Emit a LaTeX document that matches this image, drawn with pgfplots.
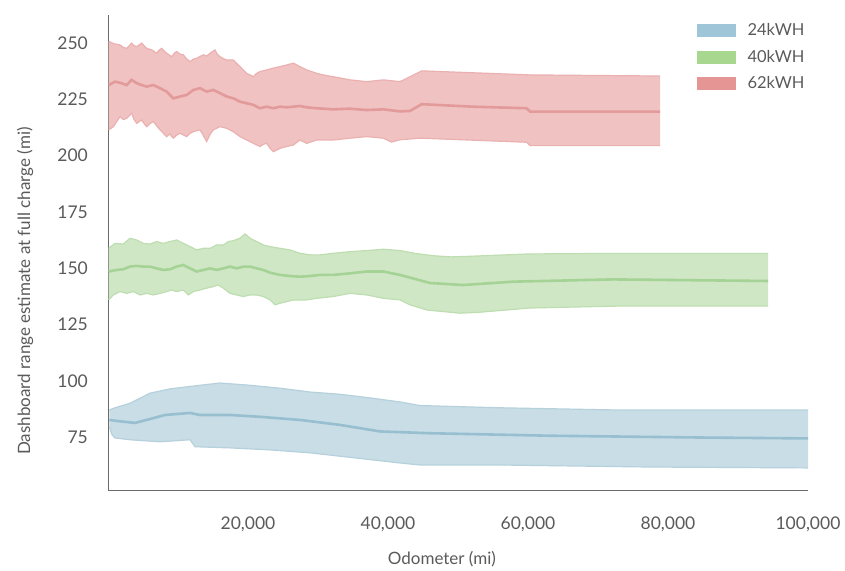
\documentclass[border=0pt]{standalone}
\usepackage{pgfplots}
\pgfplotsset{compat=1.18}
\usepgfplotslibrary{fillbetween}
\usepackage{fontspec}
\setmainfont{Lato}

\definecolor{txt}{HTML}{5A5A5A}
\definecolor{spine}{HTML}{6A6A6A}
\definecolor{bFill}{HTML}{C8DDE6}
\definecolor{bEdge}{HTML}{B6D1DC}
\definecolor{bLine}{HTML}{98BFD0}
\definecolor{bLeg}{HTML}{9EC5D8}
\definecolor{gFill}{HTML}{CFE7C5}
\definecolor{gEdge}{HTML}{BEDEB1}
\definecolor{gLine}{HTML}{A5D395}
\definecolor{gLeg}{HTML}{A8D88F}
\definecolor{rFill}{HTML}{F0C2C2}
\definecolor{rEdge}{HTML}{EBB1B1}
\definecolor{rLine}{HTML}{E29A9A}
\definecolor{rLeg}{HTML}{E69595}

\begin{document}
\begin{tikzpicture}
\begin{axis}[
  scale only axis,
  width=700bp, height=475bp,
  xmin=0, xmax=100000,
  ymin=51.5, ymax=262.4,
  axis x line*=bottom, axis y line*=left,
  axis line style={-, draw=spine, line width=0.8bp},
  major tick length=0pt,
  xtick={20000,40000,60000,80000,100000},
  xticklabels={{20,000},{40,000},{60,000},{80,000},{100,000}},
  ytick={75,100,125,150,175,200,225,250},
  scaled x ticks=false,
  /pgf/number format/.cd, fixed, assume math mode=true,
  /pgfplots/.cd,
  tick label style={font=\fontsize{17.5bp}{20bp}\selectfont, text=txt},
  xticklabel style={anchor=base, yshift=-40bp},
  yticklabel style={anchor=east, inner sep=0pt, xshift=-20bp},
  xlabel={Odometer (mi)},
  ylabel={Dashboard range estimate at full charge (mi)},
  xlabel style={font=\fontsize{17bp}{20bp}\selectfont, text=txt,
    at={(axis description cs:0.477,-0.145)}, anchor=center},
  ylabel style={font=\fontsize{17bp}{20bp}\selectfont, text=txt,
    at={(axis description cs:-0.1186,0.419)}, anchor=center},
  legend style={draw=none, fill=none, at={(0.8414,0.9824)}, anchor=north west,
    inner sep=0pt, row sep=13bp,
    nodes={inner sep=0pt, font=\fontsize{16.5bp}{19bp}\selectfont, text=txt},
    /tikz/every odd column/.append style={column sep=12bp}},
  legend cell align=left,
  clip=false,
]
\coordinate (O) at (rel axis cs:0,0);

% legend swatches
\addlegendimage{legend image code/.code={\fill[bLeg] (0bp,-6bp) rectangle (38bp,6bp);}}
\addlegendentry{24kWH}
\addlegendimage{legend image code/.code={\fill[gLeg] (0bp,-6bp) rectangle (38bp,6bp);}}
\addlegendentry{40kWH}
\addlegendimage{legend image code/.code={\fill[rLeg] (0bp,-6bp) rectangle (38bp,6bp);}}
\addlegendentry{62kWH}

% ---------- 24 kWh ----------
\addplot[forget plot, name path=bU, draw=bEdge, line width=1.2bp] coordinates {
(200,87) (1000,88) (3143,90) (6000,94.5) (8857,96.4) (13143,98) (16000,99)
(20286,98) (24571,96.7) (28857,95) (33143,94) (37429,92.4) (41714,90.6)
(44571,89) (56000,88) (73143,87) (100000,87)};
\addplot[forget plot, name path=bL, draw=bEdge, line width=1.2bp] coordinates {
(200,79.5) (571,76) (1000,74.6) (3143,73.8) (7429,72.9) (11714,73.8) (12429,70.7)
(17429,70.2) (23143,69.3) (28857,68) (34571,66) (41714,63.5) (44571,62.6)
(56000,62.6) (77429,61.7) (100000,61.3)};
\addplot[forget plot, fill=bFill] fill between[of=bU and bL];
\addplot[forget plot, draw=bLine, line width=2.6bp] coordinates {
(200,82.6) (1714,82) (3857,81.3) (6000,83) (8143,84.8) (11714,85.7) (13143,84.8)
(17429,84.8) (21714,84) (27429,82.6) (33143,80.4) (38857,77.5) (46000,76.7)
(63143,75.6) (84571,74.8) (100000,74.4)};

% ---------- 40 kWh ----------
\addplot[forget plot, name path=gU, draw=gEdge, line width=1.2bp] coordinates {
(100,158.8) (1000,161.0) (2190,160.7) (3143,163.3) (4095,162.5) (5048,161.0)
(6000,160.7) (6952,161.8) (7905,161.0) (8857,161.8) (9810,162.5) (10762,161.0)
(11714,159.6) (12667,158.1) (13619,158.8) (14571,158.8) (15524,160.3) (16476,160.3)
(17190,161.8) (17905,162.2) (18857,163.3) (19571,165.2) (20286,163.3) (21238,161.8)
(22190,160.3) (23143,159.6) (24571,158.8) (26000,158.1) (27429,156.6) (28857,155.9)
(30286,155.9) (32190,156.6) (34571,157.3) (36952,157.8) (39333,158.4) (41714,157.8)
(44000,156.5) (46500,155.5) (49000,155.0) (52000,155.3) (60000,156.3) (70000,156.5)
(94300,156.5)};
\addplot[forget plot, name path=gL, draw=gEdge, line width=1.2bp] coordinates {
(100,135.9) (762,138.1) (1714,139.6) (2667,138.8) (3619,139.6) (4571,138.1)
(5524,138.8) (6476,138.1) (7429,138.8) (8381,139.6) (9095,140.3) (9810,139.6)
(10762,140.3) (11476,138.1) (12190,139.6) (13143,140.3) (14095,141.1) (15048,141.8)
(15762,142.5) (16476,141.1) (17429,138.8) (18381,138.1) (19333,137.4) (20286,138.1)
(21238,138.1) (22190,137.4) (23143,135.9) (23857,133.7) (24571,134.4) (25524,135.1)
(26476,135.9) (27429,135.9) (28381,135.9) (29810,136.6) (32190,137.4) (34571,138.8)
(36952,138.1) (39333,136.6) (41714,135.9) (43143,133.7) (45571,131.4) (50286,130.0)
(53000,130.4) (60286,132.3) (73571,133.2) (94300,133.2)};
\addplot[forget plot, fill=gFill] fill between[of=gU and gL];
\addplot[forget plot, draw=gLine, line width=2.6bp] coordinates {
(100,148.5) (1238,149.2) (2190,149.5) (3143,150.7) (4095,151.0) (5048,150.7)
(6000,150.7) (6952,149.9) (7905,149.2) (8857,149.5) (9810,150.7) (10762,151.4)
(11714,149.9) (12667,148.5) (13619,149.2) (14571,149.9) (15524,149.2) (16476,149.9)
(17429,150.7) (18381,149.9) (19333,150.7) (20286,150.7) (21238,149.9) (22190,149.2)
(23143,148.0) (24571,147.0) (26000,146.5) (27429,146.2) (28857,146.5) (30286,147.0)
(32190,147.0) (34571,147.7) (36952,148.5) (39333,148.5) (41714,147.0) (46000,143.4)
(50714,142.5) (57857,144.0) (72143,145.0) (94300,144.3)};

% ---------- 62 kWh ----------
\addplot[forget plot, name path=rU, draw=rEdge, line width=1.2bp] coordinates {
(100,250.6) (900,249.6) (1714,249.1) (2200,248.0) (2667,247.6) (3381,249.9) (3700,248.8)
(4095,248.4) (4500,249.2) (4810,249.9) (5200,248.6) (5524,247.6) (6238,246.9)
(6600,246.2) (6952,245.4) (7300,246.8) (7667,247.6) (8000,246.5) (8381,245.4)
(9095,243.9) (9500,245.5) (9810,246.2) (10300,245.0) (10762,244.7) (11200,243.0)
(11714,241.7) (12200,242.8) (12667,243.2) (13100,243.9) (13619,244.7) (14100,244.2)
(14571,245.4) (15286,246.9) (15600,245.0) (16000,243.9) (16500,243.0) (16952,242.4)
(17905,242.4) (18400,240.8) (18857,239.5) (19300,238.0) (19810,236.5) (20300,235.8)
(20762,235.0) (21200,236.4) (21714,237.3) (22667,238.0) (23619,238.8) (24571,239.5)
(25524,240.2) (26476,241.0) (27429,239.5) (28381,238.0) (29810,236.5) (31000,235.6)
(32190,235.0) (34571,233.6) (36952,232.8) (39333,233.6) (41714,232.8) (43143,235.0)
(44814,237.6) (60286,235.8) (78857,235.3)};
\addplot[forget plot, name path=rL, draw=rEdge, line width=1.2bp] coordinates {
(100,211.4) (762,212.8) (1714,217.3) (2200,216.0) (2667,216.5) (3381,218.8) (3700,216.2)
(4095,214.3) (4810,215.8) (5200,214.0) (5524,212.8) (6000,214.2) (6476,215.1)
(7000,213.0) (7429,211.4) (8381,208.4) (8800,209.5) (9333,207.7) (9800,209.0)
(10286,209.9) (11238,208.4) (11700,209.8) (12190,210.6) (13143,211.4) (13600,209.0)
(14095,206.2) (14600,209.5) (15048,211.4) (16000,212.8) (16952,212.1) (17905,210.6)
(18857,208.4) (19810,206.9) (20762,205.4) (21714,204.0) (22200,205.0) (22667,205.4)
(23200,203.0) (23619,201.7) (24571,203.2) (25524,204.0) (26476,204.7) (27429,206.9)
(28381,205.4) (29810,206.9) (32190,206.9) (34571,207.7) (36952,208.4) (39333,207.7)
(40500,206.0) (41714,207.0) (44600,207.7) (59814,205.9) (60286,204.4) (78857,204.4)};
\addplot[forget plot, fill=rFill] fill between[of=rU and rL];
\addplot[forget plot, draw=rLine, line width=2.6bp] coordinates {
(100,231.3) (1000,232.8) (1952,232.1) (2667,231.3) (3381,233.6) (4095,232.1)
(4810,231.3) (5524,230.6) (6476,231.3) (7429,229.9) (8381,228.4) (9333,225.4)
(10286,226.2) (11238,226.9) (12190,229.1) (13143,229.9) (14095,228.4) (15048,229.1)
(16000,227.7) (16952,226.2) (17905,225.4) (18857,223.9) (19810,223.2) (20762,222.5)
(21714,221.0) (22667,221.7) (23619,221.0) (24571,221.7) (25524,221.4) (26476,221.7)
(27429,222.0) (28381,221.4) (29810,221.0) (32190,220.5) (34571,220.8) (36952,220.2)
(39333,220.5) (41714,219.6) (43143,219.8) (44814,222.8) (52000,221.7) (59800,221.0)
(60300,219.5) (78857,219.5)};
\end{axis}
\path (O) ++(-108bp,-79bp) rectangle ++(845bp,569bp);
\end{tikzpicture}
\end{document}
